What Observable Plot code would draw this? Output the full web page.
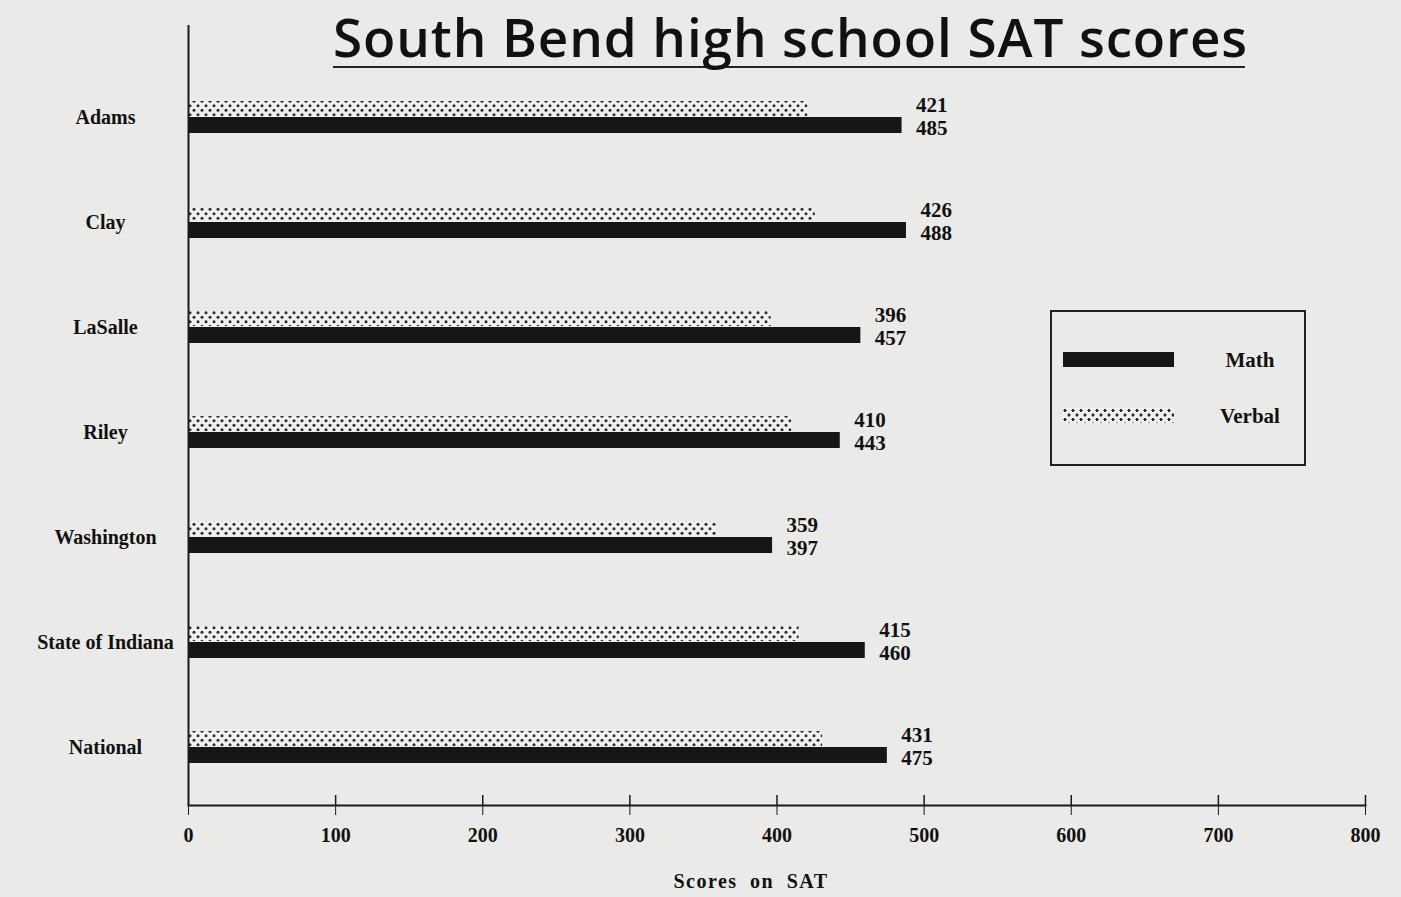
<!DOCTYPE html>
<html>
<head>
<meta charset="utf-8">
<script src="https://cdn.jsdelivr.net/npm/d3@7"></script>
<script src="https://cdn.jsdelivr.net/npm/@observablehq/plot@0.6"></script>
<style>
  html, body { margin: 0; padding: 0; background: #eaeae8; }
  #wrap { position: relative; width: 1401px; height: 897px; overflow: hidden; }
  #title {
    position: absolute; left: 333px; top: 0px; width: 912px;
    font-family: "Open Sans", sans-serif; font-weight: 600; font-size: 53px;
    color: #111; text-align: center; letter-spacing: 0.9px; white-space: nowrap;
    line-height: normal;
  }
  #rule { position: absolute; left: 333px; top: 66px; width: 912px; height: 2px; background: #222; }
  #legend {
    position: absolute; left: 1050px; top: 310px; width: 256px; height: 156px;
    border: 2px solid #222; box-sizing: border-box;
    font-family: "Liberation Serif", serif; font-weight: bold; font-size: 21px; color: #111;
  }
  .sw { position: absolute; left: 11px; width: 111px; height: 15px; }
  .lab { position: absolute; left: 143px; width: 110px; text-align: center; }
  #chart svg { display: block; }
</style>
</head>
<body>
<div id="wrap">
  <div id="chart"></div>
  <div id="rule"></div>
  <div id="title">South Bend high school SAT scores</div>
  <div id="legend"></div>
</div>
<script>
const schools = ["Adams", "Clay", "LaSalle", "Riley", "Washington", "State of Indiana", "National"];
const math = [485, 488, 457, 443, 397, 460, 475];
const verbal = [421, 426, 396, 410, 359, 415, 431];
const xTicks = [0, 100, 200, 300, 400, 500, 600, 700, 800];
const seriesNames = ["Math", "Verbal"];
const xLabel = "Scores on SAT";

const rows = schools.map((s, i) => ({school: s, math: math[i], verbal: verbal[i]}));

const chart = Plot.plot({
  width: 1401,
  height: 897,
  marginLeft: 188,
  marginRight: 36,
  marginTop: 25,
  marginBottom: 92,
  style: {background: "transparent", fontFamily: "Liberation Serif, serif", fontWeight: "bold", fontSize: "21px", color: "#111"},
  x: {domain: [0, 800]},
  y: {domain: schools, range: [62, 801], paddingInner: 0.7, paddingOuter: 0.35, axis: null},
  marks: [
    Plot.barX(rows, {x: "verbal", y: "school", fill: "url(#dots)", insetBottom: 17}),
    Plot.barX(rows, {x: "math", y: "school", fill: "#161616", insetTop: 16}),
    Plot.text(rows, {x: "math", y: "school", text: d => String(d.verbal), dx: 14, dy: -12, textAnchor: "start", fill: "#111"}),
    Plot.text(rows, {x: "math", y: "school", text: d => String(d.math), dx: 14, dy: 11, textAnchor: "start", fill: "#111"}),
    Plot.text(schools, {y: d => d, frameAnchor: "left", dx: -83, textAnchor: "middle", fill: "#111", fontSize: 20}),
    Plot.ruleX([0], {stroke: "#1a1a1a", strokeWidth: 2}),
    Plot.frame({anchor: "bottom", stroke: "#1a1a1a", strokeWidth: 2}),
    Plot.ruleX(xTicks.slice(1), {x: d => d, insetTop: 770, stroke: "#1a1a1a", strokeWidth: 1.5}),
    Plot.axisX({ticks: xTicks, tickSize: 10, tickPadding: 12, label: null, tickFormat: d => String(d), stroke: "#1a1a1a", fill: "#111", fontSize: 20}),
    Plot.text([xLabel], {frameAnchor: "bottom", dx: -26, dy: 82, fill: "#111", fontSize: 20, className: "xlab"})
  ]
});

const svg = d3.select(chart);
svg.insert("defs", ":first-child").html(
  `<pattern id="dots" width="8" height="9" patternUnits="userSpaceOnUse">
     <rect width="8" height="9" fill="#f0f0ee"/>
     <circle cx="2" cy="2.25" r="1.5" fill="#2a2a2a"/>
     <circle cx="6" cy="6.75" r="1.5" fill="#2a2a2a"/>
   </pattern>`
);
svg.selectAll(".xlab text").style("letter-spacing", "1.5px").style("word-spacing", "6px");
document.getElementById("chart").appendChild(chart);

// legend
const legend = d3.select("#legend");
const items = [
  {name: seriesNames[0], top: 40, style: "background:#161616;"},
  {name: seriesNames[1], top: 96, style: "background-color:#f0f0ee;background-image:radial-gradient(circle, #2a2a2a 1.4px, transparent 1.7px),radial-gradient(circle, #2a2a2a 1.4px, transparent 1.7px);background-size:8px 9px;background-position:-2px -2px,2px 2.5px;"}
];
items.forEach(it => {
  legend.append("div").attr("class", "sw").attr("style", `top:${it.top}px;${it.style}`);
  legend.append("div").attr("class", "lab").attr("style", `top:${it.top - 4}px;`).text(it.name);
});
</script>
</body>
</html>
